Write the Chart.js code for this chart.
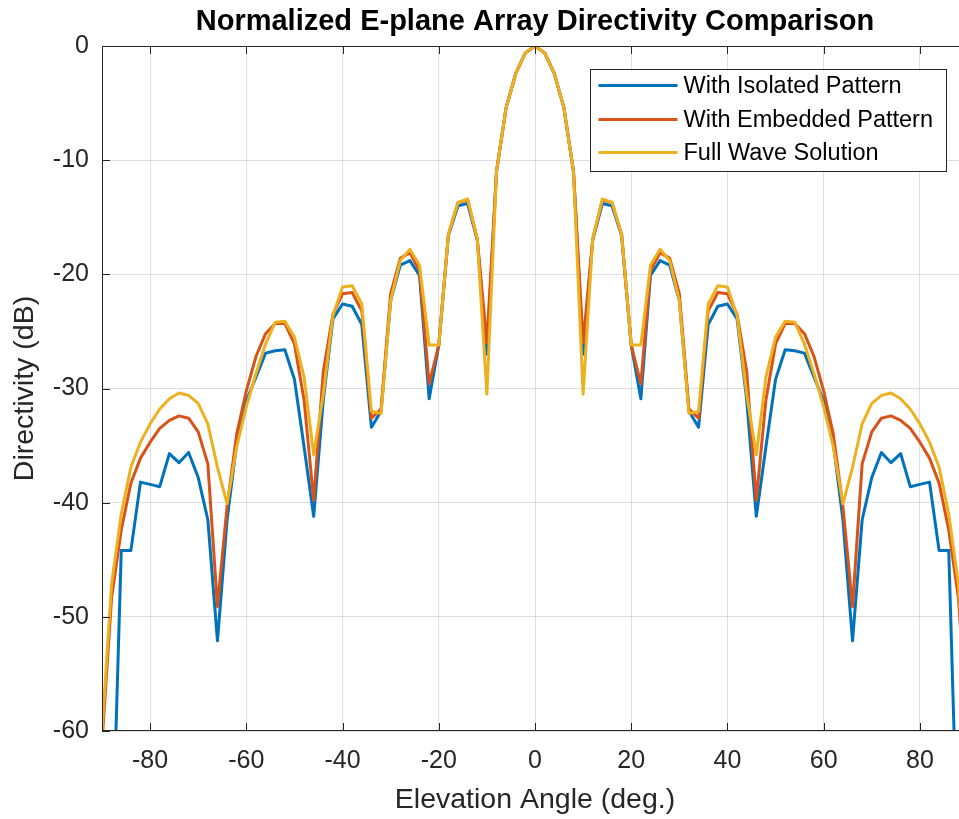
<!DOCTYPE html>
<html>
<head>
<meta charset="utf-8">
<script src="https://cdn.jsdelivr.net/npm/chart.js@4.4.0/dist/chart.umd.min.js"></script>
<style>
html, body { margin: 0; padding: 0; background: #fff; overflow: hidden; }
#wrap { position: relative; width: 980px; height: 819px; }
</style>
</head>
<body>
<div id="wrap"><canvas id="patternChart"></canvas></div>
<script>
const angles = [-90, -88, -86, -84, -82, -80, -78, -76, -74, -72, -70, -68, -66, -64, -62, -60, -58, -56, -54, -52,
    -50, -48, -46, -44, -42, -40, -38, -36, -34, -32, -30, -28, -26, -24, -22, -20, -18, -16, -14, -12,
    -10, -8, -6, -4, -2, 0, 2, 4, 6, 8, 10, 12, 14, 16, 18, 20, 22, 24, 26, 28,
    30, 32, 34, 36, 38, 40, 42, 44, 46, 48, 50, 52, 54, 56, 58, 60, 62, 64, 66, 68,
    70, 72, 74, 76, 78, 80, 82, 84, 86, 88, 90];

const isolatedPattern = [-80, -73, -44.2, -44.2, -38.2, -38.4, -38.6, -35.7, -36.5, -35.6, -37.8, -41.5, -52.1, -41.5, -34.8, -31.1, -29.0, -26.9, -26.7, -26.6,
    -29.2, -35.1, -41.2, -31.0, -23.9, -22.6, -22.8, -24.4, -33.4, -32.0, -22.3, -19.2, -18.8, -20.1, -30.9, -26.2, -16.6, -14.0, -13.8, -17.0,
    -27.0, -11.0, -5.4, -2.4, -0.6, 0, -0.6, -2.4, -5.4, -11.0, -27.0, -17.0, -13.8, -14.0, -16.6, -26.2, -30.9, -20.1, -18.8, -19.2,
    -22.3, -32.0, -33.4, -24.4, -22.8, -22.6, -23.9, -31.0, -41.2, -35.1, -29.2, -26.6, -26.7, -26.9, -29.0, -31.1, -34.8, -41.5, -52.1, -41.5,
    -37.8, -35.6, -36.5, -35.7, -38.6, -38.4, -38.2, -44.2, -44.2, -73, -80];

const embeddedPattern = [-61, -48.3, -42.4, -38.3, -36.1, -34.7, -33.5, -32.8, -32.4, -32.6, -33.8, -36.6, -49.1, -40.3, -34.0, -30.2, -27.2, -25.2, -24.3, -24.3,
    -26.1, -31.0, -39.8, -28.5, -23.5, -21.7, -21.6, -23.2, -32.6, -31.8, -21.7, -18.6, -18.1, -19.7, -29.6, -26.2, -16.5, -13.7, -13.5, -16.9,
    -26.0, -11.0, -5.4, -2.4, -0.6, 0, -0.6, -2.4, -5.4, -11.0, -26.0, -16.9, -13.5, -13.7, -16.5, -26.2, -29.6, -19.7, -18.1, -18.6,
    -21.7, -31.8, -32.6, -23.2, -21.6, -21.7, -23.5, -28.5, -39.8, -31.0, -26.1, -24.3, -24.3, -25.2, -27.2, -30.2, -34.0, -40.3, -49.1, -36.6,
    -33.8, -32.6, -32.4, -32.8, -33.5, -34.7, -36.1, -38.3, -42.4, -48.3, -61];

const fullWave = [-60, -47.1, -41.0, -36.9, -34.7, -33.1, -31.8, -30.9, -30.4, -30.6, -31.3, -33.1, -36.9, -40.1, -35.1, -31.6, -28.7, -26.1, -24.2, -24.1,
    -25.5, -29.0, -35.8, -30.5, -23.6, -21.1, -21.0, -22.6, -32.0, -32.2, -22.3, -18.8, -17.8, -19.2, -26.2, -26.2, -16.5, -13.7, -13.4, -16.9,
    -30.5, -11.0, -5.4, -2.4, -0.6, 0, -0.6, -2.4, -5.4, -11.0, -30.5, -16.9, -13.4, -13.7, -16.5, -26.2, -26.2, -19.2, -17.8, -18.8,
    -22.3, -32.2, -32.0, -22.6, -21.0, -21.1, -23.6, -30.5, -35.8, -29.0, -25.5, -24.1, -24.2, -26.1, -28.7, -31.6, -35.1, -40.1, -36.9, -33.1,
    -31.3, -30.6, -30.4, -30.9, -31.8, -33.1, -34.7, -36.9, -41.0, -47.1, -60];

const xTicks = [-80, -60, -40, -20, 0, 20, 40, 60, 80];
const yTicks = [-60, -50, -40, -30, -20, -10, 0];
const seriesNames = ['With Isolated Pattern', 'With Embedded Pattern', 'Full Wave Solution'];
const seriesColors = ['#0072BD', '#D95319', '#EDB120'];

const fontFamily = '"Liberation Sans", Arial, Helvetica, sans-serif';
const axisColor = '#262626';
const gridColor = 'rgba(38,38,38,0.15)';

function toPoints(values) {
    return angles.map((a, i) => ({ x: a, y: values[i] }));
}

// box, inward ticks and legend like the original figure
const figureAxes = {
    id: 'figureAxes',
    afterDatasetsDraw(chart) {
        const { ctx, chartArea: a, scales } = chart;
        ctx.save();
        ctx.strokeStyle = axisColor;
        ctx.lineWidth = 1;
        ctx.strokeRect(a.left + 0.5, a.top + 0.5, a.right - a.left - 1, a.bottom - a.top - 1);
        ctx.beginPath();
        scales.x.ticks.forEach(t => {
            const px = Math.round(scales.x.getPixelForValue(t.value)) + 0.5;
            ctx.moveTo(px, a.bottom); ctx.lineTo(px, a.bottom - 8);
            ctx.moveTo(px, a.top); ctx.lineTo(px, a.top + 8);
        });
        scales.y.ticks.forEach(t => {
            const py = Math.round(scales.y.getPixelForValue(t.value)) + 0.5;
            ctx.moveTo(a.left, py); ctx.lineTo(a.left + 8, py);
            ctx.moveTo(a.right, py); ctx.lineTo(a.right - 8, py);
        });
        ctx.stroke();

        // legend box
        const w = 356, h = 102;
        const bx = Math.round(a.right - 22 - w) + 0.5;
        const by = Math.round(a.top + 23) + 0.5;
        ctx.fillStyle = '#fff';
        ctx.fillRect(bx, by, w, h);
        ctx.strokeStyle = axisColor;
        ctx.strokeRect(bx, by, w, h);
        const rows = [16, 50, 83];
        ctx.font = '23.5px ' + fontFamily;
        ctx.textBaseline = 'middle';
        ctx.textAlign = 'left';
        chart.data.datasets.forEach((ds, i) => {
            const y = by + rows[i];
            ctx.strokeStyle = ds.borderColor;
            ctx.lineWidth = 3;
            ctx.beginPath();
            ctx.moveTo(bx + 8, y);
            ctx.lineTo(bx + 87, y);
            ctx.stroke();
            ctx.fillStyle = '#000';
            ctx.fillText(ds.label, bx + 93, y + 1);
        });
        ctx.restore();
    }
};

const ctx = document.getElementById('patternChart').getContext('2d');
new Chart(ctx, {
    type: 'line',
    data: {
        datasets: [
            { label: seriesNames[0], data: toPoints(isolatedPattern), borderColor: seriesColors[0], order: 3 },
            { label: seriesNames[1], data: toPoints(embeddedPattern), borderColor: seriesColors[1], order: 2 },
            { label: seriesNames[2], data: toPoints(fullWave), borderColor: seriesColors[2], order: 1 }
        ]
    },
    options: {
        responsive: true,
        maintainAspectRatio: false,
        animation: false,
        layout: { padding: { left: 0, right: 12, top: 0, bottom: 0 } },
        elements: {
            line: { borderWidth: 3, tension: 0, fill: false, borderJoinStyle: 'round', borderCapStyle: 'round' },
            point: { radius: 0, hoverRadius: 0 }
        },
        plugins: {
            legend: { display: false },
            tooltip: { enabled: false },
            title: {
                display: true,
                fullSize: false,
                text: 'Normalized E-plane Array Directivity Comparison',
                color: '#000',
                font: { family: fontFamily, size: 29, weight: 'bold' },
                padding: { top: 5, bottom: 6.2 }
            }
        },
        scales: {
            x: {
                type: 'linear',
                min: -90,
                max: 90,
                afterBuildTicks: s => { s.ticks = xTicks.map(v => ({ value: v })); },
                afterFit: s => { s.height = 88; },
                grid: { color: gridColor, lineWidth: 1, drawTicks: false },
                border: { display: false },
                ticks: { color: axisColor, padding: 15, font: { family: fontFamily, size: 25 } },
                title: {
                    display: true,
                    text: 'Elevation Angle (deg.)',
                    color: axisColor,
                    font: { family: fontFamily, size: 28.5 },
                    padding: { top: 0, bottom: 2 }
                }
            },
            y: {
                type: 'linear',
                min: -60,
                max: 0,
                afterBuildTicks: s => { s.ticks = yTicks.map(v => ({ value: v })); },
                afterFit: s => { s.width = 102; },
                grid: { color: gridColor, lineWidth: 1, drawTicks: false },
                border: { display: false },
                ticks: { color: axisColor, padding: 13, font: { family: fontFamily, size: 25 } },
                title: {
                    display: true,
                    text: 'Directivity (dB)',
                    color: axisColor,
                    font: { family: fontFamily, size: 28.5 },
                    padding: { top: 8, bottom: 0 }
                }
            }
        }
    },
    plugins: [figureAxes]
});
</script>
</body>
</html>
